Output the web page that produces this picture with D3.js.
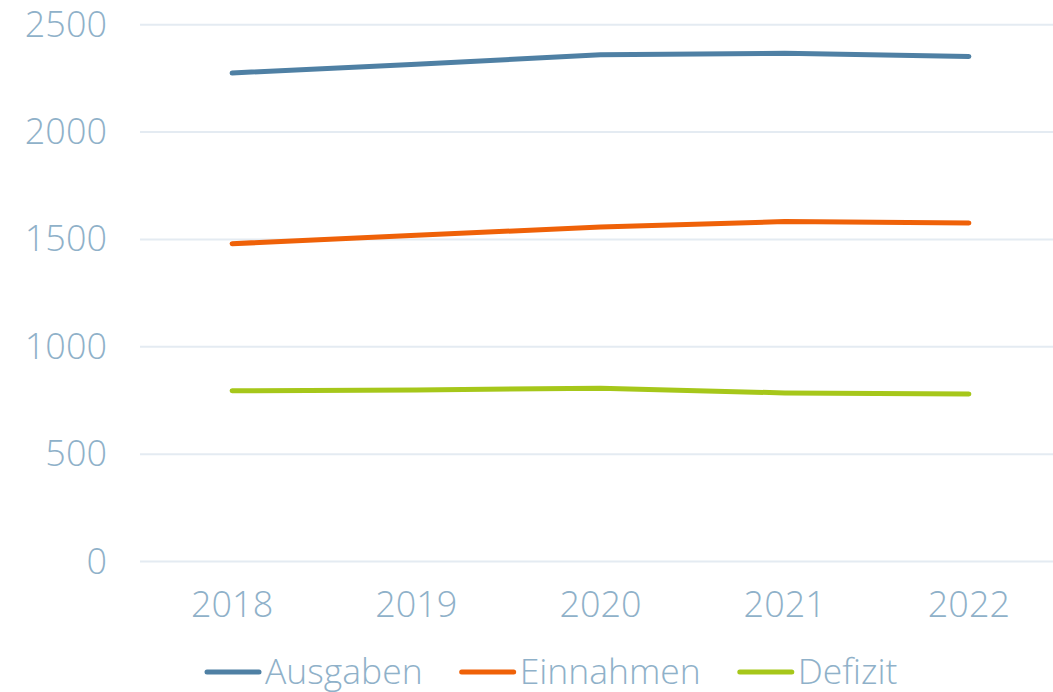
<!DOCTYPE html>
<html>
<head>
<meta charset="utf-8">
<script src="https://cdn.jsdelivr.net/npm/d3@7"></script>
<style>
  body { margin: 0; background: #fff; }
  svg text { font-family: "Open Sans", sans-serif; font-weight: 300; fill: #8fb1c9; }
</style>
</head>
<body>
<svg id="chart" width="1053" height="692"></svg>
<script>
var years = ["2018", "2019", "2020", "2021", "2022"];
var ausgaben = [2275, 2316, 2360, 2367, 2352];
var einnahmen = [1480, 1519, 1558, 1583, 1576];
var defizit = [795, 799, 807, 785, 780];
var yTicks = [0, 500, 1000, 1500, 2000, 2500];

var series = [
  { name: "Ausgaben", values: ausgaben, color: "#4f80a4" },
  { name: "Einnahmen", values: einnahmen, color: "#ef6108" },
  { name: "Defizit", values: defizit, color: "#a6c71a" }
];

var svg = d3.select("#chart");
var plotLeft = 140, plotRight = 1061, plotTop = 24.7, plotBottom = 561.5;

var x = d3.scaleBand().domain(years).range([plotLeft, plotRight]).padding(0);
var y = d3.scaleLinear().domain([0, 2500]).range([plotBottom, plotTop]);

// gridlines
svg.append("g").selectAll("line")
  .data(yTicks)
  .enter().append("line")
  .attr("x1", plotLeft).attr("x2", 1053)
  .attr("y1", function(d) { return y(d); })
  .attr("y2", function(d) { return y(d); })
  .attr("stroke", "#e4ebf2")
  .attr("stroke-width", 2);

// y labels
svg.append("g").selectAll("text")
  .data(yTicks)
  .enter().append("text")
  .attr("x", 107)
  .attr("y", function(d) { return y(d) + 12; })
  .attr("text-anchor", "end")
  .style("font-size", "36px")
  .text(function(d) { return d; });

// x labels
svg.append("g").selectAll("text")
  .data(years)
  .enter().append("text")
  .attr("x", function(d) { return x(d) + x.bandwidth() / 2; })
  .attr("y", 617)
  .attr("text-anchor", "middle")
  .style("font-size", "36px")
  .text(function(d) { return d; });

var line = d3.line()
  .x(function(d, i) { return x(years[i]) + x.bandwidth() / 2; })
  .y(function(d) { return y(d); });

svg.append("g").selectAll("path")
  .data(series)
  .enter().append("path")
  .attr("d", function(s) { return line(s.values); })
  .attr("fill", "none")
  .attr("stroke", function(s) { return s.color; })
  .attr("stroke-width", 5)
  .attr("stroke-linecap", "round")
  .attr("stroke-linejoin", "round");

// legend
var lx = 207, ly = 672;
series.forEach(function(s) {
  svg.append("line")
    .attr("x1", lx).attr("x2", lx + 52)
    .attr("y1", ly).attr("y2", ly)
    .attr("stroke", s.color)
    .attr("stroke-width", 5)
    .attr("stroke-linecap", "round");
  var t = svg.append("text")
    .attr("x", lx + 58)
    .attr("y", ly + 12)
    .style("font-size", "35.5px")
    .text(s.name);
  lx += 58 + t.node().getComputedTextLength() + 39;
});
</script>
</body>
</html>
